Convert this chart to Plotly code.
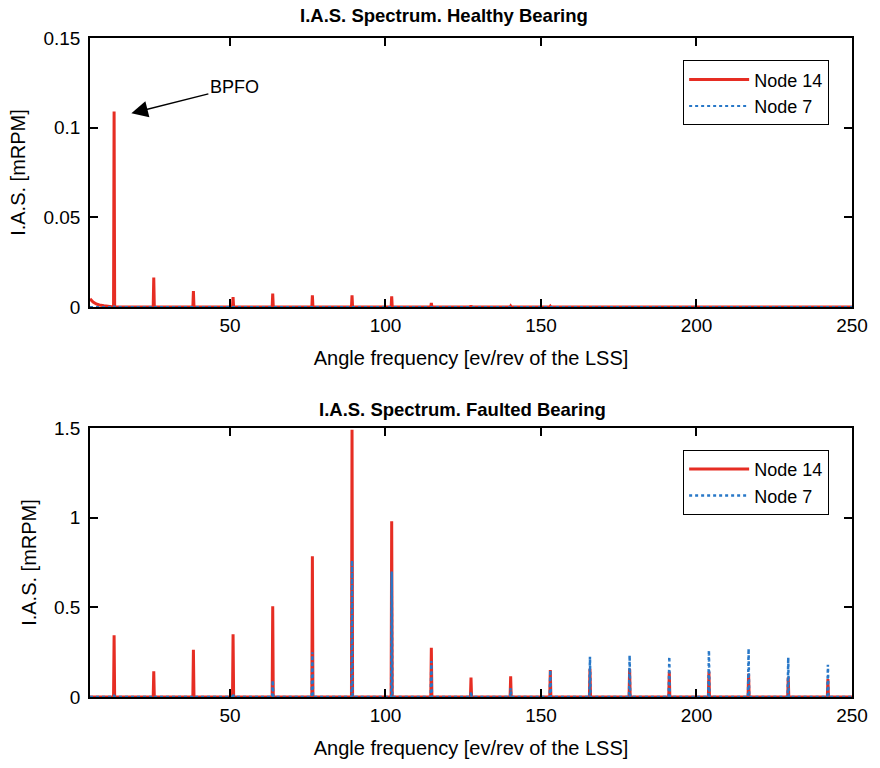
import plotly.graph_objects as go

# ---------------- data ----------------
harmonic_freqs = [12.75, 25.5, 38.25, 51.0, 63.75, 76.5, 89.25, 102.0, 114.75,
                  127.5, 140.25, 153.0, 165.75, 178.5, 191.25, 204.0, 216.75,
                  229.5, 242.25]

# Healthy bearing (top)
healthy_node14 = [0.109, 0.0164, 0.0089, 0.0056, 0.0075, 0.0065, 0.0065, 0.006,
                  0.0022, 0.0008, 0.0005, 0.0004, 0.0003, 0.0003, 0.0003, 0.0003,
                  0.0002, 0.0002, 0.0002]
healthy_node7 = [0.0006, 0.0004, 0.0003, 0.0003, 0.0003, 0.0003, 0.0003, 0.0003,
                 0.0002, 0.0002, 0.0002, 0.0002, 0.0002, 0.0002, 0.0002, 0.0002,
                 0.0002, 0.0002, 0.0002]
healthy_lowfreq_x = [5.0, 6.0, 7.0, 8.0, 9.5, 11.0]
healthy_lowfreq_y = [0.0045, 0.0028, 0.0017, 0.0011, 0.0007, 0.0005]

# Faulted bearing (bottom)
faulted_node14 = [0.344, 0.143, 0.264, 0.35, 0.506, 0.785, 1.49, 0.98, 0.275,
                  0.108, 0.115, 0.15, 0.158, 0.158, 0.14, 0.14, 0.13, 0.11, 0.10]
faulted_node7 = [0.005, 0.005, 0.005, 0.02, 0.093, 0.25, 0.76, 0.70, 0.20,
                 0.03, 0.05, 0.15, 0.225, 0.233, 0.225, 0.26, 0.27, 0.22, 0.18]

x_start, x_end = 5.0, 250.0
half_width = 0.18

RED = "rgb(230,45,35)"
BLUE = "rgb(40,120,200)"


def spectrum(freqs, amps, low_x=None, low_y=None):
    xs, ys = [], []
    if low_x:
        xs += list(low_x)
        ys += list(low_y)
    else:
        xs.append(x_start)
        ys.append(0.0)
    for f, a in zip(freqs, amps):
        xs += [f - half_width, f, f + half_width]
        ys += [0.0, a, 0.0]
    xs.append(x_end)
    ys.append(0.0)
    return xs, ys


fig = go.Figure()

x, y = spectrum(harmonic_freqs, healthy_node14, healthy_lowfreq_x, healthy_lowfreq_y)
fig.add_trace(go.Scatter(x=x, y=y, mode="lines", name="Node 14",
                         line=dict(color=RED, width=3), xaxis="x", yaxis="y",
                         legend="legend"))
x, y = spectrum(harmonic_freqs, healthy_node7)
fig.add_trace(go.Scatter(x=x, y=y, mode="lines", name="Node 7",
                         line=dict(color=BLUE, width=2, dash="dot"), xaxis="x", yaxis="y",
                         legend="legend"))

x, y = spectrum(harmonic_freqs, faulted_node14)
fig.add_trace(go.Scatter(x=x, y=y, mode="lines", name="Node 14",
                         line=dict(color=RED, width=3), xaxis="x2", yaxis="y2",
                         legend="legend2"))
x, y = spectrum(harmonic_freqs, faulted_node7)
fig.add_trace(go.Scatter(x=x, y=y, mode="lines", name="Node 7",
                         line=dict(color=BLUE, width=2.5, dash="dot"), xaxis="x2", yaxis="y2",
                         legend="legend2"))

FONT = "Liberation Sans, Arial, sans-serif"
TICK = 19
LAB = 20
axis_common = dict(showline=True, linecolor="black", linewidth=1.5, mirror="ticks",
                   ticks="inside", ticklen=8, tickwidth=1.5, tickcolor="black",
                   showgrid=False, zeroline=False,
                   tickfont=dict(family=FONT, size=TICK, color="black"))

xcommon = dict(axis_common, range=[x_start, x_end], tickvals=[50, 100, 150, 200, 250],
               title=dict(text="Angle frequency [ev/rev of the LSS]",
                          font=dict(family=FONT, size=LAB, color="black"), standoff=16))

ycommon = dict(axis_common, ticklabelstandoff=4)

legend_common = dict(bordercolor="black", borderwidth=1, bgcolor="white",
                     font=dict(family=FONT, size=18, color="black"),
                     xanchor="right", yanchor="top", tracegroupgap=0,
                     itemwidth=60)

fig.update_layout(
    width=880, height=768,
    margin=dict(l=90, r=23, t=38, b=71),
    plot_bgcolor="white", paper_bgcolor="white",
    font=dict(family=FONT, color="black"),
    xaxis=dict(xcommon, domain=[0, 1], anchor="y"),
    yaxis=dict(ycommon, domain=[0.5918, 1], anchor="x", range=[0, 0.15],
               tickvals=[0, 0.05, 0.1, 0.15], ticktext=["0", "0.05", "0.1", "0.15"],
               title=dict(text="I.A.S. [mRPM]", font=dict(family=FONT, size=LAB, color="black"),
                          standoff=12)),
    xaxis2=dict(xcommon, domain=[0, 1], anchor="y2"),
    yaxis2=dict(ycommon, domain=[0, 0.4082], anchor="x2", range=[0, 1.5],
                tickvals=[0, 0.5, 1, 1.5], ticktext=["0", "0.5", "1", "1.5"],
                title=dict(text="I.A.S. [mRPM]", font=dict(family=FONT, size=LAB, color="black"),
                           standoff=12)),
    legend=dict(legend_common, x=0.97, y=0.966),
    legend2=dict(legend_common, x=0.97, y=0.375),
    showlegend=True,
    annotations=[
        dict(text="<b>I.A.S. Spectrum. Healthy Bearing</b>", xref="paper", yref="paper",
             x=0.464, y=1.0, yshift=23, showarrow=False, xanchor="center", yanchor="middle",
             font=dict(family=FONT, size=18.5, color="black")),
        dict(text="<b>I.A.S. Spectrum. Faulted Bearing</b>", xref="paper", yref="paper",
             x=0.489, y=0.4082, yshift=18, showarrow=False, xanchor="center", yanchor="middle",
             font=dict(family=FONT, size=18.5, color="black")),
        dict(text="BPFO", xref="x", yref="y", x=18.3, y=0.108, ax=103, ay=-26,
             showarrow=True, arrowhead=2, arrowsize=2.2, arrowwidth=1.5, arrowcolor="black",
             font=dict(family=FONT, size=18, color="black")),
    ],
)

fig.write_html("out.html")
